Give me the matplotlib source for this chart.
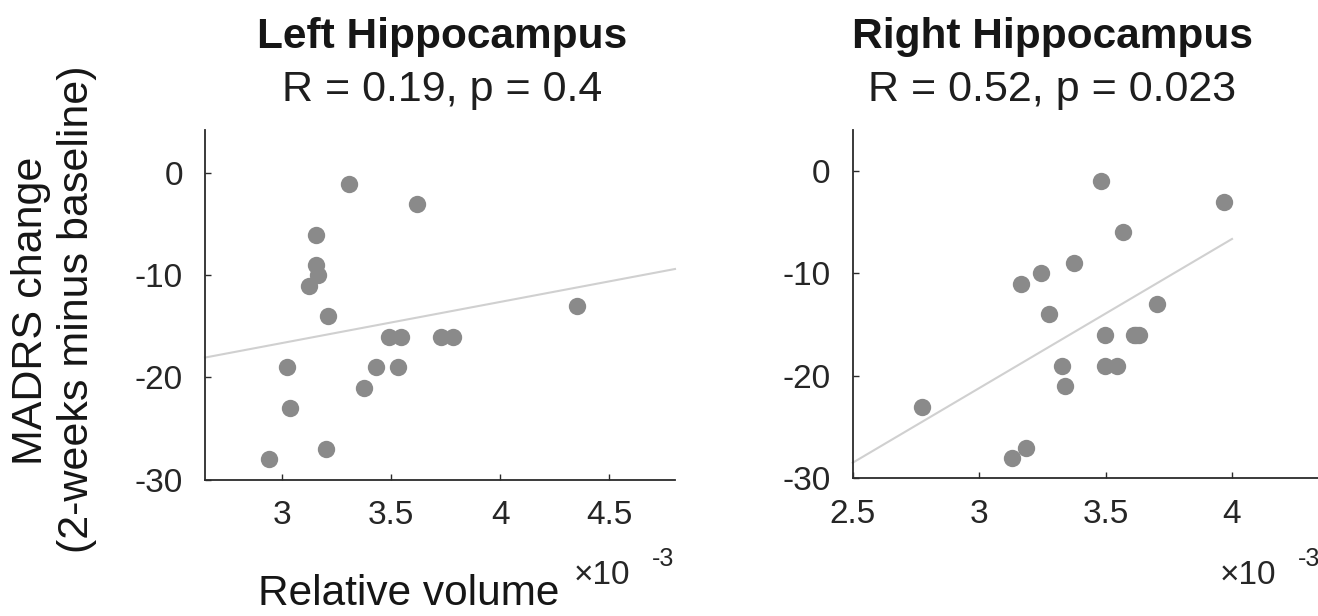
import numpy as np
import matplotlib
matplotlib.use("Agg")
import matplotlib.pyplot as plt

plt.rcParams['font.family'] = ['Liberation Sans', 'DejaVu Sans']

# ---- data (relative volume in units of 1e-3, MADRS change) ----
left_vol = [3.308, 3.618, 3.160, 3.160, 3.165, 3.126, 3.212, 4.353, 3.490, 3.545,
            3.730, 3.784, 3.027, 3.432, 3.535, 3.377, 3.040, 3.205, 2.943]
left_madrs = [-1, -3, -6, -9, -10, -11, -14, -13, -16, -16,
              -16, -16, -19, -19, -19, -21, -23, -27, -28]

right_vol = [3.481, 3.967, 3.570, 3.375, 3.246, 3.167, 3.704, 3.276, 3.499, 3.612,
             3.622, 3.632, 3.328, 3.499, 3.544, 3.339, 2.773, 3.186, 3.130]
right_madrs = [-1, -3, -6, -9, -10, -11, -13, -14, -16, -16,
               -16, -16, -19, -19, -19, -21, -23, -27, -28]

titles = ["Left Hippocampus", "Right Hippocampus"]
stats = ["R = 0.19, p = 0.4", "R = 0.52, p = 0.023"]
left_xticks = [3, 3.5, 4, 4.5]
right_xticks = [2.5, 3, 3.5, 4]
yticks = [0, -10, -20, -30]

W, H = 1318, 616
fig = plt.figure(figsize=(W / 100, H / 100), dpi=100)

def fx(px):
    return px / W

def fy(py):
    return 1 - py / H

axL = fig.add_axes([fx(205), fy(479.5), fx(675) - fx(205), fy(130) - fy(479.5)])
axR = fig.add_axes([fx(852.7), fy(478.3), fx(1318) - fx(852.7), fy(130) - fy(478.3)])

axis_col = '#2b2b2b'
marker_col = '#8a8a8a'
line_col = '#d0d0d0'

def style(ax, xlim, ylim, xticks):
    ax.set_xlim(*xlim)
    ax.set_ylim(*ylim)
    ax.set_xticks(xticks)
    ax.set_xticklabels([('%g' % t) for t in xticks])
    ax.set_yticks(yticks)
    ax.set_yticklabels([('%d' % t) for t in yticks])
    for s in ['top', 'right']:
        ax.spines[s].set_visible(False)
    for s in ['left', 'bottom']:
        ax.spines[s].set_color(axis_col)
        ax.spines[s].set_linewidth(1.3)
    ax.tick_params(direction='in', length=4.5, width=1.0, colors=axis_col,
                   labelsize=24, labelcolor='#262626')
    ax.tick_params(axis='x', pad=15)
    ax.tick_params(axis='y', pad=16)
    ax.patch.set_alpha(0)

def panel(ax, xv, yv, line_range):
    xv = np.asarray(xv)
    yv = np.asarray(yv)
    b, a = np.polyfit(xv, yv, 1)
    xl = np.array(line_range)
    ax.plot(xl, a + b * xl, color=line_col, lw=1.5, zorder=1, clip_on=False)
    ax.plot(xv, yv, 'o', ms=12.5, color=marker_col, mec='none', zorder=2, clip_on=False)

panel(axL, left_vol, left_madrs, [2.65, 4.8])
panel(axR, right_vol, right_madrs, [2.5, 4.0])
style(axL, (2.65, 4.8), (-30, 4.25), left_xticks)
style(axR, (2.5, 4.34), (-30, 4.0), right_xticks)

# titles
for cx, t, s in [(442, titles[0], stats[0]), (1052, titles[1], stats[1])]:
    fig.text(fx(cx), fy(48), t, ha='center', va='baseline', fontsize=30.5,
             fontweight='bold', color='#161616')
    fig.text(fx(cx), fy(101), s, ha='center', va='baseline', fontsize=31,
             color='#1e1e1e')

# y label (two lines)
fig.text(fx(42), fy(311), "MADRS change", rotation=90, rotation_mode='anchor',
         ha='center', va='baseline', fontsize=31, color='#161616')
fig.text(fx(88), fy(309), "(2-weeks minus baseline)", rotation=90, rotation_mode='anchor',
         ha='center', va='baseline', fontsize=31, color='#161616')

# x label
fig.text(fx(258), fy(605), "Relative volume", ha='left', va='baseline',
         fontsize=30.5, color='#161616')

# exponent labels
for x0 in [574, 1220]:
    fig.text(fx(x0), fy(584), "\u00d710", ha='left', va='baseline', fontsize=24, color='#262626')
    fig.text(fx(x0 + 78), fy(566), "-3", ha='left', va='baseline', fontsize=18, color='#262626')

fig.savefig('out.png', dpi=100)
